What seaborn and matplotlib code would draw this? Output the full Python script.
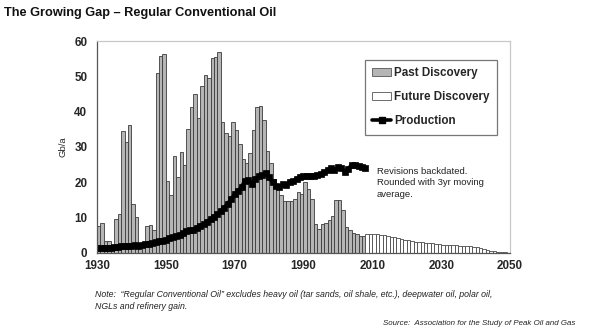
import numpy as np
import pandas as pd
import matplotlib
matplotlib.use("Agg")
import matplotlib.pyplot as plt
from matplotlib.patches import Patch
from matplotlib.lines import Line2D
import seaborn as sns

# ---------------- data ----------------
past_years = list(range(1930, 2008))
past_discovery = [
    7.6, 8.5, 3.4, 3.4, 2.0, 9.5, 11.1, 34.5, 31.3, 36.2,      # 1930-1939
    14.0, 10.3, 2.5, 3.0, 7.7, 8.0, 6.5, 51.0, 55.8, 56.2,     # 1940-1949
    20.3, 16.3, 27.4, 21.4, 28.6, 25.0, 35.2, 41.2, 45.1, 38.1, # 1950-1959
    47.2, 50.3, 49.6, 55.3, 55.6, 57.0, 37.0, 33.9, 33.0, 37.2, # 1960-1969
    34.9, 30.8, 26.6, 25.6, 28.4, 34.9, 41.3, 41.5, 37.7, 29.0, # 1970-1979
    25.4, 21.0, 18.8, 16.5, 14.6, 14.8, 14.7, 15.2, 17.3, 16.8, # 1980-1989
    20.1, 18.2, 15.4, 8.3, 6.9, 8.3, 8.4, 9.2, 10.6, 14.9,      # 1990-1999
    15.1, 12.1, 7.3, 6.4, 5.6, 5.4, 4.9, 4.7,                   # 2000-2007
]

future_years = list(range(2008, 2050))
future_discovery = [
    5.4, 5.5, 5.5, 5.4, 5.2, 5.0, 4.8, 4.6, 4.4, 4.2,   # 2008-2017
    4.0, 3.8, 3.6, 3.4, 3.25, 3.1, 3.0, 2.9, 2.8, 2.7,  # 2018-2027
    2.6, 2.5, 2.4, 2.35, 2.3, 2.2, 2.15, 2.1, 2.0, 1.95, # 2028-2037
    1.9, 1.8, 1.7, 1.3, 1.1, 0.9, 0.7, 0.5, 0.35, 0.25,  # 2038-2047
    0.15, 0.1,                                          # 2048-2049
]

prod_years = list(range(1930, 2009))
production = [
    1.4, 1.4, 1.3, 1.5, 1.5, 1.7, 1.8, 2.0, 2.0, 2.1,    # 1930-1939
    2.1, 2.2, 2.1, 2.2, 2.5, 2.6, 2.8, 3.1, 3.4, 3.5,    # 1940-1949
    3.8, 4.3, 4.5, 4.8, 5.0, 5.6, 6.1, 6.4, 6.6, 7.2,    # 1950-1959
    7.7, 8.2, 8.9, 9.5, 10.3, 11.0, 12.0, 12.8, 14.0, 15.2, # 1960-1969
    16.6, 17.6, 18.6, 20.5, 20.6, 19.6, 21.0, 21.7, 22.0, 22.7, # 1970-1979
    21.5, 20.0, 19.0, 18.8, 19.4, 19.2, 20.2, 20.3, 21.0, 21.4, # 1980-1989
    21.8, 21.7, 21.7, 21.7, 22.0, 22.3, 22.9, 23.5, 24.0, 23.4, # 1990-1999
    24.2, 24.0, 23.0, 23.9, 24.8, 25.0, 24.6, 24.4, 24.0,       # 2000-2008
]

y_ticks = [0, 10, 20, 30, 40, 50, 60]
x_ticks = [1930, 1950, 1970, 1990, 2010, 2030, 2050]

past_df = pd.DataFrame({"year": past_years, "value": past_discovery})
future_df = pd.DataFrame({"year": future_years, "value": future_discovery})
prod_df = pd.DataFrame({"year": prod_years, "value": production})

# ---------------- style ----------------
sns.set_style("white")
plt.rcParams["font.family"] = ["Liberation Sans", "DejaVu Sans"]

fig = plt.figure(figsize=(5.9, 3.32), dpi=100)
ax = fig.add_axes([0.1644, 0.238, 0.700, 0.6385])

sns.histplot(data=past_df, x="year", weights="value", binwidth=1,
             binrange=(1930, 2050), ax=ax,
             color="#b5b5b5", edgecolor="#3c3c3c", linewidth=0.6, alpha=1)
sns.histplot(data=future_df, x="year", weights="value", binwidth=1,
             binrange=(1930, 2050), ax=ax,
             color="white", edgecolor="#4a4a4a", linewidth=0.6, alpha=1)
sns.lineplot(data=prod_df, x="year", y="value", ax=ax, color="black",
             linewidth=2.8, marker="s", markersize=4.3, markeredgecolor="black",
             markeredgewidth=0.5)

ax.set_xlim(1930, 2050)
ax.set_ylim(0, 60)
ax.set_xticks(x_ticks)
ax.set_yticks(y_ticks)
ax.set_xticklabels([str(t) for t in x_ticks], fontweight="bold", fontsize=8.4)
ax.set_yticklabels([str(t) for t in y_ticks], fontweight="bold", fontsize=8.4)
ax.set_xlabel("")
ax.set_ylabel("Gb/a", fontsize=6.8, labelpad=5)
ax.tick_params(axis="x", direction="inout", length=6, width=0.8, color="#444", pad=2)
ax.tick_params(axis="y", direction="out", length=4, width=0.8, color="#444", pad=3)

for side in ["left", "bottom"]:
    ax.spines[side].set_color("#555555")
    ax.spines[side].set_linewidth(0.9)
for side in ["top", "right"]:
    ax.spines[side].set_color("#c8c8c8")
    ax.spines[side].set_linewidth(0.9)

handles = [
    Patch(facecolor="#b5b5b5", edgecolor="#555555", linewidth=0.6),
    Patch(facecolor="white", edgecolor="#555555", linewidth=0.6),
    Line2D([0], [0], color="black", linewidth=2.6, marker="s", markersize=4.3),
]
leg = ax.legend(handles, ["Past Discovery", "Future Discovery", "Production"],
                loc="upper left", bbox_to_anchor=(0.634, 0.94),
                prop={"weight": "bold", "size": 8.4},
                frameon=True, fancybox=False, framealpha=1,
                edgecolor="#777777", borderpad=0.65, labelspacing=1.02,
                handlelength=1.6, handleheight=0.75, handletextpad=0.25)
leg.get_frame().set_linewidth(0.9)

ax.text(2011.3, 24.4, "Revisions backdated.\nRounded with 3yr moving\naverage.",
        fontsize=6.8, color="#222222", va="top", ha="left", linespacing=1.35)

fig.text(0.006, 0.962, "The Growing Gap \u2013 Regular Conventional Oil",
         fontsize=9.2, fontweight="bold", va="center", ha="left", color="#111111")
fig.text(0.161, 0.094,
         "Note:  \u201cRegular Conventional Oil\u201d excludes heavy oil (tar sands, oil shale, etc.), deepwater oil, polar oil,\nNGLs and refinery gain.",
         fontsize=6.3, style="italic", va="center", ha="left", color="#222222",
         linespacing=1.4)
fig.text(0.975, 0.027, "Source:  Association for the Study of Peak Oil and Gas",
         fontsize=5.7, style="italic", va="center", ha="right", color="#222222")

fig.savefig("out.png", dpi=100)
